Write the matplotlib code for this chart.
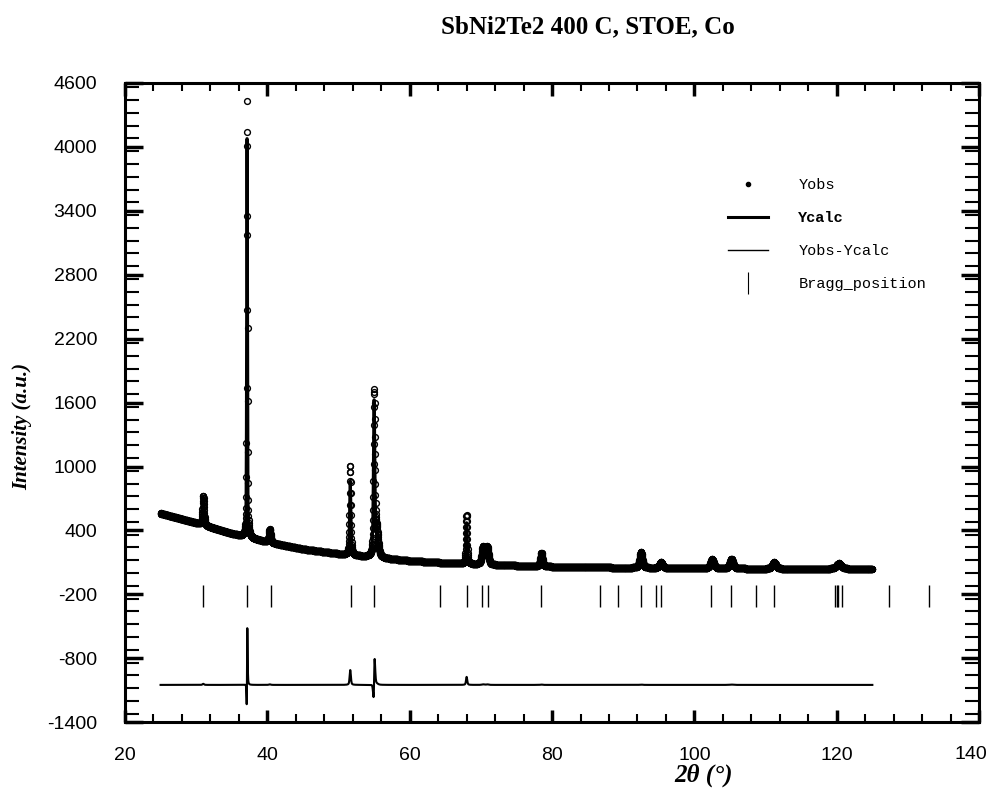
import numpy as np
import matplotlib
matplotlib.use("Agg")
import matplotlib.pyplot as plt
from matplotlib.lines import Line2D
from matplotlib.ticker import MultipleLocator, FuncFormatter

plt.rcParams["axes.unicode_minus"] = False

# background knots (2theta, counts)
bg_x = [25, 30, 35, 40, 45, 50, 55, 60, 65, 70, 80, 90, 100, 110, 125]
bg_y = [560, 470, 370, 290, 225, 180, 145, 115, 95, 80, 60, 50, 45, 40, 40]

# peaks: position, calc height, obs height, obs shift, fwhm
pk_pos = [31.0, 37.15, 40.35, 51.65, 55.0, 55.35, 68.0, 70.3, 70.9, 78.5,
          92.5, 95.3, 102.5, 105.2, 111.2, 120.3]
pk_calc = [265, 3830, 120, 700, 1410, 240, 385, 160, 160, 125,
           145, 55, 85, 85, 60, 50]
pk_obs = [275, 4100, 125, 840, 1500, 250, 460, 165, 165, 128,
          148, 55, 85, 88, 60, 50]
pk_shift = [0.0, 0.008, 0.0, 0.0, 0.02, 0.0, 0.0, 0.0, 0.0, 0.0,
            0.0, 0.0, 0.0, 0.0, 0.0, 0.0]
pk_fwhm = [0.25, 0.12, 0.3, 0.2, 0.22, 0.5, 0.2, 0.4, 0.4, 0.35,
           0.45, 0.5, 0.55, 0.55, 0.6, 0.8]

# Bragg reflections
bragg = [31.0, 37.1, 40.5, 51.8, 55.0, 64.3, 68.0, 70.2, 71.0, 78.5,
         86.8, 89.2, 92.5, 94.6, 95.3, 102.4, 105.2, 108.7, 111.2,
         119.8, 120.0, 120.2, 120.7, 127.4, 133.0]

diff_offset = -1050
step = 0.02


def pvoigt(x, x0, h, w, eta=0.5):
    d = (x - x0) / (w / 2)
    return h * (eta / (1 + d ** 2) + (1 - eta) * np.exp(-np.log(2) * d ** 2))


tth = np.arange(25, 125 + step / 2, step)
bg = np.interp(tth, bg_x, bg_y)
ycalc = bg.copy()
yobs = bg.copy()
for p, hc, ho, s, w in zip(pk_pos, pk_calc, pk_obs, pk_shift, pk_fwhm):
    ycalc += pvoigt(tth, p, hc, w)
    yobs += pvoigt(tth, p + s, ho, w)
ydiff = yobs - ycalc + diff_offset

fig = plt.figure(figsize=(9.88, 7.98), dpi=100)
ax = fig.add_axes([0.1265, 0.095, 0.8645, 0.801])

ax.plot(tth, yobs, ls="none", marker="o", ms=4.2, mfc="none", mec="black", mew=1.0)
ax.plot(tth, ycalc, color="black", lw=2.2)
ax.plot(tth, ydiff, color="black", lw=1.5)
ax.vlines(bragg, -320, -110, color="black", lw=1.0)

ax.set_xlim(20, 140)
ax.set_ylim(-1400, 4600)
ax.xaxis.set_major_locator(MultipleLocator(20))
ax.xaxis.set_minor_locator(MultipleLocator(4))
# last label (140) is drawn by hand so it stays inside the figure
ax.xaxis.set_major_formatter(FuncFormatter(lambda v, p: "" if v >= 140 else f"{v:.0f}"))
ax.yaxis.set_major_locator(MultipleLocator(600))
ax.yaxis.set_minor_locator(MultipleLocator(120))
ax.set_yticks(np.arange(-1400, 4601, 600))

for sp in ax.spines.values():
    sp.set_linewidth(2.2)
ax.tick_params(which="both", direction="in", top=True, right=True, width=1.5)
ax.tick_params(axis="x", which="major", length=9, width=2.5, pad=18)
ax.tick_params(axis="x", which="minor", length=6)
ax.tick_params(axis="y", which="major", length=13, width=2.5, pad=20)
ax.tick_params(axis="y", which="minor", length=10)
for lab in ax.get_xticklabels() + ax.get_yticklabels():
    lab.set_family("Liberation Sans")
    lab.set_fontsize(14)
fig.text(0.999, 0.054, "140", ha="right", va="center",
         family="Liberation Sans", fontsize=14)

fig.text(0.595, 0.966, "SbNi2Te2 400 C, STOE, Co", ha="center", va="center",
         family="Liberation Serif", weight="bold", fontsize=18)
fig.text(0.7125, 0.029, "2θ (°)", ha="center", va="center",
         family="Liberation Serif", weight="bold", style="italic", fontsize=18)
fig.text(0.022, 0.465, "Intensity (a.u.)", ha="center", va="center", rotation=90,
         family="Liberation Serif", weight="bold", style="italic", fontsize=15)

handles = [
    Line2D([], [], ls="none", marker="o", ms=3.0, color="black"),
    Line2D([], [], color="black", lw=2.2),
    Line2D([], [], color="black", lw=1.0),
    Line2D([], [], ls="none", marker="|", ms=16, mew=0.8, color="black"),
]
labels = ["Yobs", "Ycalc", "Yobs-Ycalc", "Bragg_position"]
leg = ax.legend(handles, labels, loc="upper left", bbox_to_anchor=(0.69, 0.873),
                frameon=False, prop={"family": "Liberation Mono", "size": 11},
                handlelength=2.6, handletextpad=2.0, labelspacing=1.25)
leg.get_texts()[1].set_weight("bold")

fig.savefig("out.png", dpi=100)
